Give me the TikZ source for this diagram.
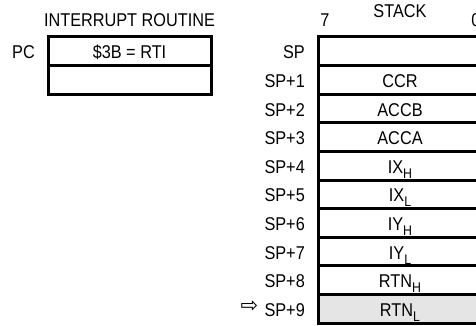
\documentclass[tikz,border=0pt]{standalone}
\usepackage{fontspec}
\setmainfont[FakeStretch=0.88]{Liberation Sans}
\newfontfamily\arrowfont{DejaVu Sans}
\usetikzlibrary{positioning}

% lowered index, as in IX_H
\newcommand{\subtxt}[1]{\raisebox{-5pt}{\fontsize{14}{14}\selectfont #1}}

\begin{document}
\begin{tikzpicture}[x=1pt, y=1pt,
  every node/.style={font=\fontsize{18.5}{20}\selectfont},
  cell/.style={draw, line width=3pt, outer sep=0pt, inner sep=0pt,
    minimum width=164pt, minimum height=28.6pt, text height=15.2pt, text depth=0pt},
  slot/.style={inner sep=0pt, text height=15.2pt, text depth=0pt},
  lbl/.style={inner sep=0pt}
]
\useasboundingbox (0,0) rectangle (476,-326);
\clip (0,0) rectangle (476,-326);

% interrupt routine
\node[cell, minimum width=163pt] (rt0) at (129.5,-51.3) {\$3B = RTI};
\node[cell, minimum width=163pt, below=0pt of rt0] (rt1) {};
\node[lbl, above=10pt of rt0] (rttitle) {INTERRUPT ROUTINE};
\node[slot, left=13pt of rt0] (pc) {PC};

% stack
\node[cell] (st0) at (400,-51.3) {};
\node[cell, below=0pt of st0] (st1) {CCR};
\node[cell, below=0pt of st1] (st2) {ACCB};
\node[cell, below=0pt of st2] (st3) {ACCA};
\node[cell, below=0pt of st3] (st4) {IX\subtxt{H}};
\node[cell, below=0pt of st4] (st5) {IX\subtxt{L}};
\node[cell, below=0pt of st5] (st6) {IY\subtxt{H}};
\node[cell, below=0pt of st6] (st7) {IY\subtxt{L}};
\node[cell, below=0pt of st7] (st8) {RTN\subtxt{H}};
\node[cell, below=0pt of st8, fill=black!10] (st9) {RTN\subtxt{L}};

\node[lbl, above=18.7pt of st0] (sttitle) {STACK};
\node[lbl, above=10pt of st0.north west, xshift=7pt] (bit7) {7};
\node[lbl, above=10pt of st0.north east, xshift=-6pt] (bit0) {0};

\node[slot, left=13pt of st0] (sp0) {SP};
\node[slot, left=13pt of st1] (sp1) {SP+1};
\node[slot, left=13pt of st2] (sp2) {SP+2};
\node[slot, left=13pt of st3] (sp3) {SP+3};
\node[slot, left=13pt of st4] (sp4) {SP+4};
\node[slot, left=13pt of st5] (sp5) {SP+5};
\node[slot, left=13pt of st6] (sp6) {SP+6};
\node[slot, left=13pt of st7] (sp7) {SP+7};
\node[slot, left=13pt of st8] (sp8) {SP+8};
\node[slot, left=13pt of st9] (sp9) {SP+9};
\node[inner sep=0pt, left=6pt of sp9, yshift=2pt, font=\arrowfont\fontsize{21}{21}\selectfont] (ptr) {⇨};
\end{tikzpicture}
\end{document}
